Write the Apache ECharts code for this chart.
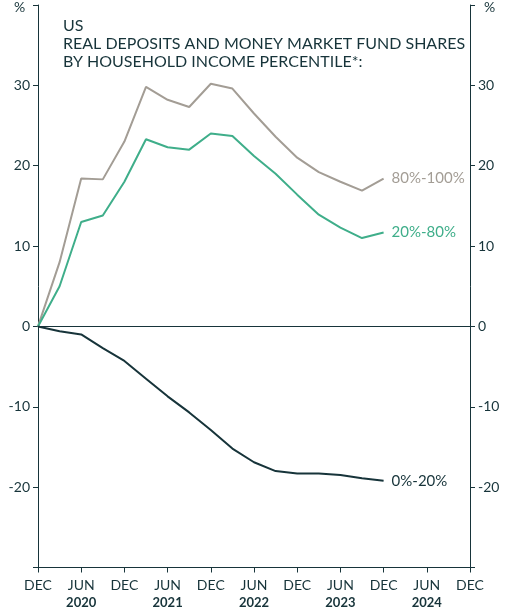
<!DOCTYPE html>
<html><head><meta charset="utf-8">
<script src="https://cdn.jsdelivr.net/npm/echarts@6/dist/echarts.min.js"></script>
<style>html,body{margin:0;background:#fff}#c{width:517px;height:609px}</style>
</head><body><div id="c"></div>
<script>
const xTicks = ['DEC','JUN\n2020','DEC','JUN\n2021','DEC','JUN\n2022','DEC','JUN\n2023','DEC','JUN\n2024','DEC'];
const top20 = [0,8,18.4,18.3,23,29.8,28.2,27.3,30.2,29.6,26.5,23.6,21,19.2,18,16.9,18.4];
const mid60 = [0,5,13,13.8,18,23.3,22.3,22,24,23.7,21.2,19,16.4,13.9,12.3,11,11.7];
const bot20 = [0,-0.6,-1,-2.7,-4.3,-6.5,-8.7,-10.7,-12.9,-15.2,-16.9,-18,-18.3,-18.3,-18.5,-18.9,-19.2];
const names = ['80%-100%','20%-80%','0%-20%'];
const colors = ['#a39d95','#3fae8a','#17343a'];
const dark = '#17343a';
const font = 'Lato';
function pts(a){return a.map((v,i)=>[i,v]);}
const chart = echarts.init(document.getElementById('c'));
const yAxisBase = {type:'value',min:-30,max:40,interval:10,
  axisLine:{show:true,lineStyle:{color:dark,width:1}},
  axisTick:{show:true,inside:false,length:5,lineStyle:{color:dark}},
  splitLine:{show:false},
  axisLabel:{color:dark,fontFamily:font,fontSize:14,margin:8,
    formatter:v=>(v===-30||v===40)?'':String(v)}};
chart.setOption({
  animation:false,
  grid:{left:38,right:47,top:5,bottom:41},
  textStyle:{fontFamily:font},
  title:{left:58,top:12,text:'US\nREAL DEPOSITS AND MONEY MARKET FUND SHARES\nBY HOUSEHOLD INCOME PERCENTILE*:',
    textStyle:{color:dark,fontSize:16,fontWeight:'normal',fontFamily:font,lineHeight:18}},
  graphic:[
    {type:'text',left:14,top:0,style:{text:'%',fill:dark,font:'14px '+font}},
    {type:'text',left:484,top:0,style:{text:'%',fill:dark,font:'14px '+font}}
  ],
  xAxis:{type:'value',min:0,max:20,interval:2,
    axisLine:{show:true,onZero:false,lineStyle:{color:dark}},
    axisTick:{show:true,length:5,lineStyle:{color:dark}},
    splitLine:{show:false},
    axisLabel:{margin:8,fontFamily:font,color:dark,
      formatter:v=>{const s=xTicks[v/2];if(!s)return '';const p=s.split('\n');return p.length>1?'{m|'+p[0]+'}\n{y|'+p[1]+'}':'{m|'+p[0]+'}';},
      rich:{m:{fontSize:14,color:dark,fontFamily:font,lineHeight:19},y:{fontSize:13,fontWeight:'bold',color:dark,fontFamily:font,lineHeight:16}}}},
  yAxis:[Object.assign({},yAxisBase,{position:'left'}),Object.assign({},yAxisBase,{position:'right'})],
  series:[top20,mid60,bot20].map((d,i)=>({type:'line',name:names[i],data:pts(d),showSymbol:false,
    lineStyle:{color:colors[i],width:2},itemStyle:{color:colors[i]},
    endLabel:{show:true,formatter:names[i],color:colors[i],fontSize:15,fontFamily:font,distance:8},
    markLine:i===2?{silent:true,symbol:'none',label:{show:false},lineStyle:{color:dark,width:1,type:'solid'},data:[{yAxis:0}]}:undefined}))
});
</script></body></html>
